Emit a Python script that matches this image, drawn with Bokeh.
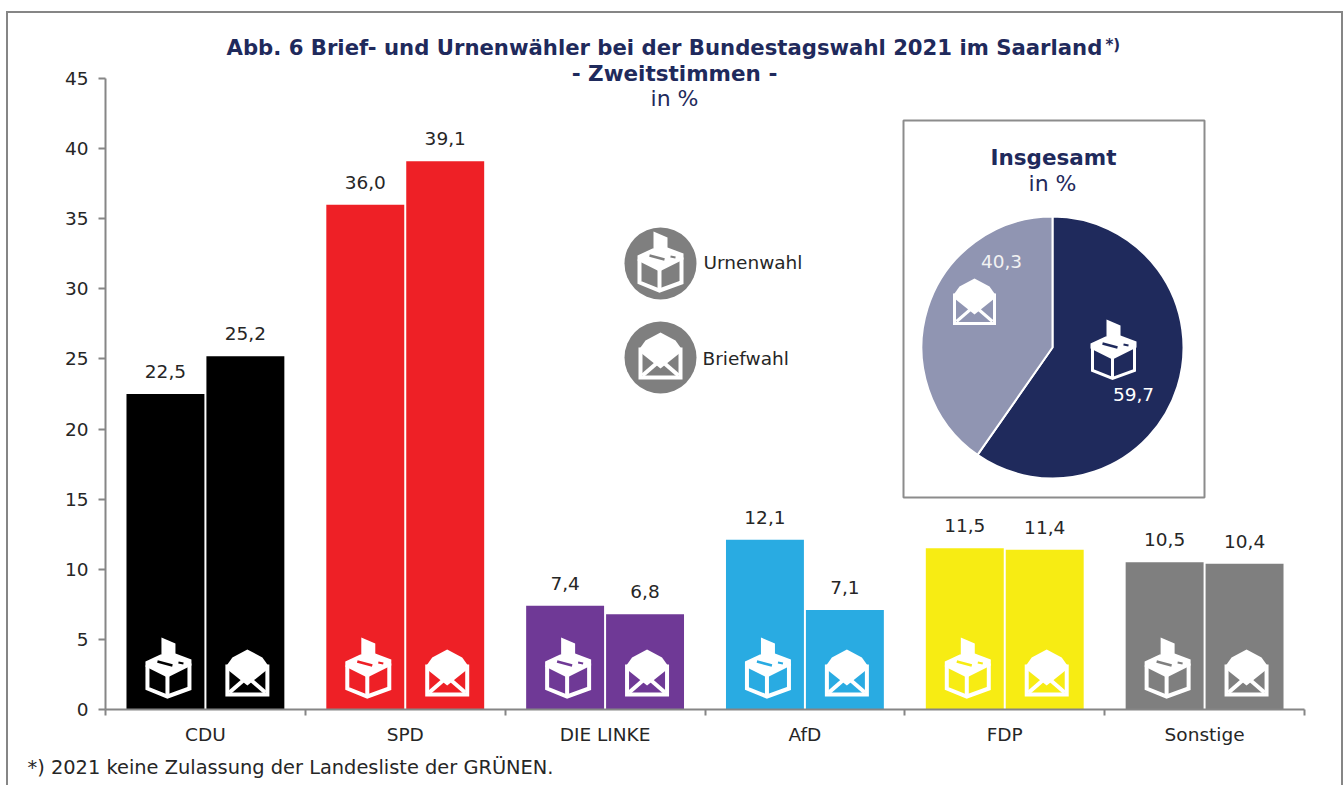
from bokeh.plotting import figure
from bokeh.models import ColumnDataSource, FixedTicker, Label, BoxAnnotation, Range1d, Title
from bokeh.core.properties import value
from bokeh.embed import file_html
from bokeh.resources import INLINE
import math

# ---- data ----
parties = ["CDU", "SPD", "DIE LINKE", "AfD", "FDP", "Sonstige"]
urnenwahl = [22.5, 36.0, 7.4, 12.1, 11.5, 10.5]
briefwahl = [25.2, 39.1, 6.8, 7.1, 11.4, 10.4]
party_colors = ["#000000", "#ee2026", "#6f3996", "#29abe2", "#f7ec13", "#7f7f7f"]
pie_values = [59.7, 40.3]
pie_colors = ["#1f2a5c", "#9095b2"]
y_ticks = [0, 5, 10, 15, 20, 25, 30, 35, 40, 45]

FONT = "DejaVu Sans"
NAVY = "#1f2a5c"
TXT = "#262626"
AX = "#868686"

# figure origin on the page and plot geometry in page pixels
OX, OY = 8, 13
W, H = 1333, 772
L, B = 105, 709              # position of x=0 / y=0
UX = (1304 - 105) / len(parties)
UY = (709 - 78) / 45
FR_RIGHT, FR_TOP = OX + W, OY  # frame reaches the figure's top and right edges

p = figure(width=W, height=H, output_backend="svg", toolbar_location=None,
           x_range=Range1d(0, (FR_RIGHT - L) / UX), y_range=Range1d(0, (B - FR_TOP) / UY),
           min_border_left=L - OX, min_border_right=0, min_border_top=0,
           min_border_bottom=OY + H - B,
           outline_line_color=None, background_fill_color="white",
           styles={"margin-left": f"{OX}px", "margin-top": f"{OY}px",
                   "outline": f"2px solid {AX}"})
p.grid.visible = False
p.xaxis.bounds = (0, len(parties))
p.yaxis.bounds = (0, 45)
p.xaxis.ticker = FixedTicker(ticks=[i + 0.5 for i in range(len(parties))],
                             minor_ticks=list(range(len(parties) + 1)))
p.xaxis.major_label_overrides = {i + 0.5: n for i, n in enumerate(parties)}
p.xaxis.major_tick_out = 0
p.xaxis.major_tick_in = 0
p.xaxis.minor_tick_out = 6
p.xaxis.minor_tick_in = 0
p.xaxis.major_label_standoff = 8
p.yaxis.ticker = FixedTicker(ticks=y_ticks, minor_ticks=[])
p.yaxis.major_tick_out = 7
p.yaxis.major_tick_in = 0
p.yaxis.major_label_standoff = 10
for ax in (p.xaxis, p.yaxis):
    ax.axis_line_color = AX
    ax.axis_line_width = 2
    ax.major_tick_line_color = AX
    ax.major_tick_line_width = 2
    ax.minor_tick_line_color = AX
    ax.minor_tick_line_width = 2
    ax.major_label_text_font = FONT
    ax.major_label_text_font_size = "18.5px"
    ax.major_label_text_color = TXT


def dx(px):
    return (px - L) / UX


def dy(py):
    return (B - py) / UY


def px_x(d):
    return L + d * UX


# ---- bars ----
idx = list(range(len(parties)))
src = ColumnDataSource(dict(
    xu=[i + 0.30 for i in idx], xb=[i + 0.70 for i in idx],
    u=urnenwahl, b=briefwahl, c=party_colors,
    lu=[f"{v:.1f}".replace(".", ",") for v in urnenwahl],
    lb=[f"{v:.1f}".replace(".", ",") for v in briefwahl]))
p.vbar(x="xu", top="u", width=0.39, bottom=0, fill_color="c", line_color=None, source=src)
p.vbar(x="xb", top="b", width=0.39, bottom=0, fill_color="c", line_color=None, source=src)
for x, lab_, v in (("xu", "lu", "u"), ("xb", "lb", "b")):
    p.text(x=x, y=v, text=lab_, source=src, text_font=value(FONT), text_font_size="18.5px",
           text_color=TXT, text_align="center", text_baseline="bottom", y_offset=-16)


# ---- icons (shape outlines are in page pixels around a centre) ----
def pl(xs, ys, color, w):
    p.line(xs, ys, line_color=color, line_width=w, line_join="miter")


def ballot(cx, cy, bg, w=4, color="white"):
    def pts(a):
        return [dx(cx + q[0]) for q in a], [dy(cy + q[1]) for q in a]
    xs, ys = pts([(-7, -36), (7, -30), (7, -12), (-7, -12)])
    p.patch(xs, ys, fill_color=color, line_color=None)
    xs, ys = pts([(-23, -12), (-8, -19), (7, -20), (23, -14), (23, -8), (-1, 4), (-23, -7)])
    p.patch(xs, ys, fill_color=color, line_color=None)
    pl(*pts([(-21, -8), (-21, 15), (-1, 23), (21, 15), (21, -10)]), color, w)
    pl(*pts([(-1, 0), (-1, 23)]), color, w)
    pl(*pts([(-11, -12), (4, -8)]), bg, 2.5)
    pl(*pts([(10, -11), (15, -10)]), bg, 2)


def envelope(cx, cy, bg, w=4, color="white"):
    def pts(a):
        return [dx(cx + q[0]) for q in a], [dy(cy + q[1]) for q in a]
    xs, ys = pts([(-15, -16), (0, -24), (15, -16), (20, -9), (20, -4), (0, 12), (-20, -4), (-20, -9)])
    p.patch(xs, ys, fill_color=color, line_color=None)
    pl(*pts([(-20, -9), (-20, 21), (20, 21), (20, -9)]), color, w)
    pl(*pts([(-18, 19), (-3, 6)]), color, w)
    pl(*pts([(18, 19), (3, 6)]), color, w)


for i, c in enumerate(party_colors):
    ballot(px_x(i + 0.30) + 3, 673, c)
    envelope(px_x(i + 0.70) + 2, 673, c)


# ---- legend ----
p.scatter([dx(660), dx(660)], [dy(263), dy(357)], size=72, marker="circle",
          fill_color="#7f7f7f", line_color=None)
ballot(660, 267, "#7f7f7f")
envelope(660, 356, "#7f7f7f")


def lab(x, y, text, size=18.5, color=TXT, bold=False, align="left"):
    p.add_layout(Label(x=x - OX, y=y - OY, x_units="canvas", y_units="canvas", text=text,
                       text_font=FONT, text_font_size=f"{size}px", text_color=color,
                       text_font_style="bold" if bold else "normal",
                       text_align=align, text_baseline="middle"))


lab(703, 262, "Urnenwahl")
lab(702, 358, "Briefwahl")

# ---- inset ----
p.add_layout(BoxAnnotation(left=903 - OX, right=1204 - OX, top=120 - OY, bottom=497 - OY,
                           left_units="canvas", right_units="canvas", top_units="canvas",
                           bottom_units="canvas", fill_color="white", fill_alpha=1,
                           line_color="#8c8c8c", line_alpha=1, line_width=2, level="underlay"))
cum = 0.0
for v, c in zip(pie_values, pie_colors):
    a0 = math.pi / 2 - 2 * math.pi * cum / 100
    a1 = math.pi / 2 - 2 * math.pi * (cum + v) / 100
    p.wedge(x=[dx(1052)], y=[dy(347)], radius=131, radius_units="screen",
            start_angle=a0, end_angle=a1, direction="clock",
            fill_color=c, line_color="white", line_width=2)
    cum += v
ballot(1113, 355, NAVY, w=3)
envelope(974, 302, "#9095b2", w=3)
lab(1001, 261, f"{pie_values[1]:.1f}".replace(".", ","), color="#f2f2f2", align="center")
lab(1133, 394, f"{pie_values[0]:.1f}".replace(".", ","), color="white", align="center")
lab(1053, 157, "Insgesamt", size=21.5, color=NAVY, bold=True, align="center")
lab(1052, 183, "in %", size=22, color=NAVY, align="center")

# ---- titles ----
lab(226, 47, "Abb. 6 Brief- und Urnenwähler bei der Bundestagswahl 2021 im Saarland", size=21.2, color=NAVY, bold=True)
lab(1105, 44, "*)", size=15, color=NAVY, bold=True)
lab(674, 73, "- Zweitstimmen -", size=21.5, color=NAVY, bold=True, align="center")
lab(674, 98, "in %", size=22, color=NAVY, align="center")

# ---- footnote, below the axis ----
p.add_layout(Title(text="*) 2021 keine Zulassung der Landesliste der GRÜNEN.", align="left",
                   offset=27 - L, standoff=13, text_font=FONT, text_font_size="19.4px",
                   text_font_style="normal", text_color=TXT), "below")

open("out.html", "w").write(file_html(p, INLINE))
